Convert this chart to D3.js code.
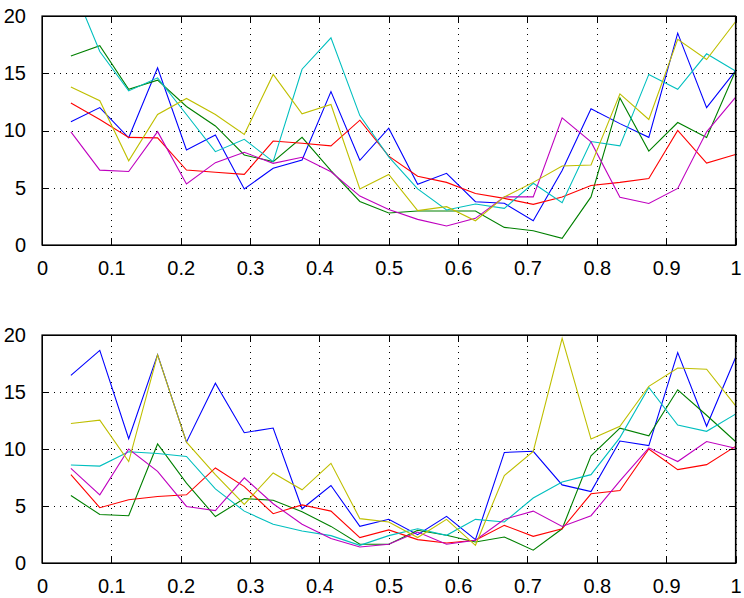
<!DOCTYPE html>
<html>
<head>
<meta charset="utf-8">
<script src="https://cdn.jsdelivr.net/npm/d3@7"></script>
<style>
  html, body { margin: 0; padding: 0; background: #fff; }
  svg { display: block; }
  .tick text { font-family: "Liberation Sans", Arial, Helvetica, sans-serif; font-size: 20px; fill: #000; }
</style>
</head>
<body>
<script>
// x positions: 24 samples at k/24
const xs = d3.range(1, 25).map(k => k / 24);

// line colours in plotting order (b, g, r, c, m, y)
const colors = ['#0000ff', '#008000', '#ff0000', '#00bfbf', '#bf00bf', '#bfbf00'];

// top panel series
const topBlue    = [10.76, 12.0, 9.36, 15.47, 8.3, 9.6, 4.89, 6.7, 7.42, 13.4, 7.4, 10.2, 5.3, 6.26, 3.78, 3.64, 2.12, 6.5, 11.9, 10.6, 9.4, 18.5, 12.0, 15.2];
const topGreen   = [16.5, 17.4, 13.6, 14.4, 12.1, 10.4, 7.86, 7.28, 9.4, 6.5, 3.8, 2.8, 2.97, 2.97, 2.97, 1.54, 1.25, 0.58, 4.2, 12.85, 8.2, 10.7, 9.4, 15.2];
const topRed     = [12.4, 10.96, 9.4, 9.36, 6.55, 6.35, 6.17, 9.08, 8.88, 8.66, 10.9, 7.76, 6.0, 5.47, 4.5, 4.07, 3.55, 4.2, 5.2, 5.47, 5.8, 10.0, 7.15, 7.9];
const topCyan    = [23.0, 16.9, 13.46, 14.6, 11.4, 8.15, 9.23, 7.28, 15.35, 18.1, 11.3, 7.7, 4.9, 3.06, 3.58, 3.2, 5.39, 3.7, 9.04, 8.66, 14.9, 13.6, 16.7, 15.2];
const topMagenta = [9.88, 6.54, 6.42, 9.9, 5.33, 7.19, 8.1, 7.13, 7.66, 6.4, 4.27, 3.1, 2.24, 1.66, 2.33, 4.2, 4.2, 11.1, 9.0, 4.16, 3.63, 4.94, 9.88, 12.9];
const topYellow  = [13.8, 12.6, 7.35, 11.4, 12.8, 11.4, 9.65, 14.9, 11.45, 12.27, 4.9, 6.16, 3.0, 3.35, 2.12, 4.2, 5.47, 6.9, 6.98, 13.2, 10.96, 17.97, 16.2, 19.5];

// bottom panel series
const botBlue    = [16.46, 18.65, 10.9, 18.28, 10.6, 15.77, 11.43, 11.84, 4.76, 6.8, 3.21, 3.83, 2.49, 4.09, 2.05, 9.7, 9.8, 6.85, 6.27, 10.7, 10.3, 18.45, 12.0, 18.0];
const botGreen   = [5.92, 4.26, 4.15, 10.44, 7.0, 4.08, 5.65, 5.5, 4.5, 3.21, 1.64, 1.64, 2.87, 2.43, 1.84, 2.28, 1.12, 3.0, 9.4, 11.83, 11.16, 15.2, 12.96, 10.66];
const botRed     = [7.76, 4.85, 5.55, 5.83, 5.98, 8.34, 6.7, 4.32, 5.1, 4.55, 2.23, 2.9, 2.05, 1.76, 2.0, 3.3, 2.34, 3.0, 6.07, 6.36, 10.0, 8.19, 8.63, 10.23];
const botCyan    = [8.6, 8.5, 9.76, 9.6, 9.35, 6.5, 4.55, 3.4, 2.8, 2.4, 1.55, 2.4, 3.0, 2.43, 3.83, 3.6, 5.7, 7.1, 7.75, 11.0, 15.4, 12.1, 11.55, 13.06];
const botMagenta = [8.3, 5.98, 10.0, 8.04, 4.96, 4.6, 7.47, 5.2, 3.4, 2.14, 1.4, 1.64, 2.72, 1.64, 2.0, 3.83, 4.55, 3.2, 4.15, 7.2, 10.1, 8.9, 10.66, 10.06];
const botYellow  = [12.24, 12.53, 8.9, 18.25, 10.6, 7.76, 5.14, 7.9, 6.42, 8.74, 3.89, 3.6, 2.23, 3.83, 1.55, 7.67, 9.79, 19.7, 10.87, 12.0, 15.5, 17.1, 17.0, 13.8];

const xTicks = d3.range(0, 11).map(k => k / 10);
const yTicks = [0, 5, 10, 15, 20];

const W = 744, H = 598;
const LEFT = 42, RIGHT = 735.5;

const panels = [
  { top: 16,  bottom: 245, series: [topBlue, topGreen, topRed, topCyan, topMagenta, topYellow] },
  { top: 335, bottom: 563, series: [botBlue, botGreen, botRed, botCyan, botMagenta, botYellow] }
];

const svg = d3.select('body').append('svg')
  .attr('width', W)
  .attr('height', H);

const x = d3.scaleLinear().domain([0, 1]).range([LEFT, RIGHT]);
const fmt = d3.format('~g');

panels.forEach(function (p, pi) {
  const y = d3.scaleLinear().domain([0, 20]).range([p.bottom, p.top]);
  const h = p.bottom - p.top;
  const g = svg.append('g');

  // dotted grid
  g.append('g')
    .attr('transform', 'translate(0,' + p.bottom + ')')
    .call(d3.axisBottom(x).tickValues(xTicks).tickSize(-h).tickFormat(''))
    .call(s => s.select('.domain').remove())
    .selectAll('line')
      .attr('stroke', '#000')
      .attr('stroke-dasharray', '1,5')
      .attr('shape-rendering', 'crispEdges');
  g.append('g')
    .attr('transform', 'translate(' + LEFT + ',0)')
    .call(d3.axisLeft(y).tickValues(yTicks).tickSize(-(RIGHT - LEFT)).tickFormat(''))
    .call(s => s.select('.domain').remove())
    .selectAll('line')
      .attr('stroke', '#000')
      .attr('stroke-dasharray', '1,5')
      .attr('shape-rendering', 'crispEdges');

  // data lines
  const clipId = 'clip' + pi;
  svg.append('clipPath').attr('id', clipId)
    .append('rect')
      .attr('x', LEFT).attr('y', p.top)
      .attr('width', RIGHT - LEFT).attr('height', h);

  const line = d3.line()
    .x((d, i) => x(xs[i]))
    .y(d => y(d));

  g.append('g')
    .attr('clip-path', 'url(#' + clipId + ')')
    .selectAll('path')
    .data(p.series)
    .join('path')
      .attr('d', line)
      .attr('fill', 'none')
      .attr('stroke', (d, i) => colors[i])
      .attr('stroke-width', 1.1);

  // inward ticks + labels
  const axB = g.append('g')
    .attr('transform', 'translate(0,' + p.bottom + ')')
    .call(d3.axisBottom(x).tickValues(xTicks).tickSize(-7).tickPadding(16).tickFormat(fmt));
  axB.selectAll('text').attr('dy', '0.71em');
  g.append('g')
    .attr('transform', 'translate(0,' + p.top + ')')
    .call(d3.axisTop(x).tickValues(xTicks).tickSize(-7).tickFormat(''));
  g.append('g')
    .attr('transform', 'translate(' + LEFT + ',0)')
    .call(d3.axisLeft(y).tickValues(yTicks).tickSize(-7).tickPadding(16).tickFormat(fmt));
  g.append('g')
    .attr('transform', 'translate(' + RIGHT + ',0)')
    .call(d3.axisRight(y).tickValues(yTicks).tickSize(-7).tickFormat(''));

  g.selectAll('.domain').attr('stroke', '#000').attr('stroke-width', 1);
  g.selectAll('.tick line').attr('shape-rendering', 'crispEdges');

  // box
  g.append('rect')
    .attr('x', LEFT).attr('y', p.top)
    .attr('width', RIGHT - LEFT).attr('height', h)
    .attr('fill', 'none')
    .attr('stroke', '#000')
    .attr('stroke-width', 1.2);
});
</script>
</body>
</html>
